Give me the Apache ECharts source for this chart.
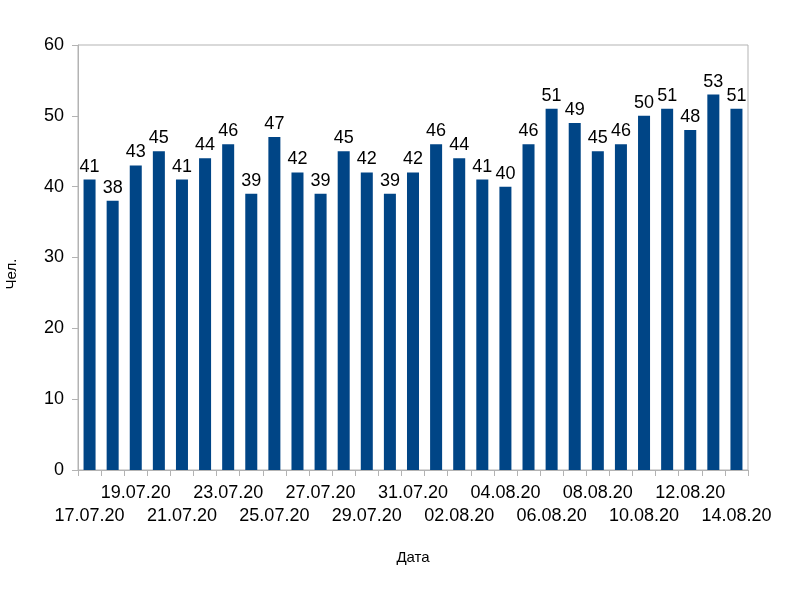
<!DOCTYPE html>
<html><head><meta charset="utf-8">
<script src="https://cdn.jsdelivr.net/npm/echarts@6/dist/echarts.min.js"></script>
<style>html,body{margin:0;padding:0;background:#fff}#c{width:800px;height:600px}</style>
</head><body><div id="c"></div>
<script>
const dates = ['17.07.20','18.07.20','19.07.20','20.07.20','21.07.20','22.07.20','23.07.20','24.07.20','25.07.20','26.07.20','27.07.20','28.07.20','29.07.20','30.07.20','31.07.20','01.08.20','02.08.20','03.08.20','04.08.20','05.08.20','06.08.20','07.08.20','08.08.20','09.08.20','10.08.20','11.08.20','12.08.20','13.08.20','14.08.20'];
const values = [41,38,43,45,41,44,46,39,47,42,39,45,42,39,42,46,44,41,40,46,51,49,45,46,50,51,48,53,51];
const yTicks = [0,10,20,30,40,50,60];
const font = 'Liberation Sans, Arial, sans-serif';
const chart = echarts.init(document.getElementById('c'));
const labelBase = {fontFamily:font,fontSize:18,color:'#000',hideOverlap:false};
chart.setOption({
  animation:false,
  grid:{left:78,right:52,top:45,bottom:130,outerBoundsMode:'none',show:true,borderColor:'#b3b3b3',borderWidth:1,backgroundColor:'transparent'},
  graphic:[{type:'text',x:12,y:274,rotation:Math.PI/2,
    style:{text:'Чел.',font:'15px Liberation Sans, Arial, sans-serif',fill:'#000',align:'center',verticalAlign:'middle'}}],
  xAxis:[{type:'category',data:dates,
    name:'Дата',nameLocation:'middle',nameGap:80,
    nameTextStyle:{fontFamily:font,fontSize:15,color:'#000'},
    axisLine:{lineStyle:{color:'#b3b3b3'}},
    axisTick:{show:true,interval:0,length:6,lineStyle:{color:'#b3b3b3'}},
    axisLabel:Object.assign({},labelBase,{margin:14,
      interval:function(i){return i%4===2;}})},
   {type:'category',data:dates,position:'bottom',
    axisLine:{show:false},axisTick:{show:false},splitLine:{show:false},
    axisLabel:Object.assign({},labelBase,{margin:37,showMinLabel:true,showMaxLabel:true,
      interval:function(i){return i%4===0;}})}],
  yAxis:{type:'value',min:0,max:60,interval:10,
    axisLine:{show:true,lineStyle:{color:'#b3b3b3'}},
    axisTick:{show:true,length:6,lineStyle:{color:'#b3b3b3'}},
    splitLine:{show:false},
    axisLabel:{fontFamily:font,fontSize:18,color:'#000',margin:14,
      formatter:function(v){return yTicks.indexOf(v)>=0?String(v):'';}}},
  series:[{type:'bar',xAxisIndex:0,data:values,barWidth:'52%',itemStyle:{color:'#004586'},
    label:{show:true,position:'top',distance:4,fontFamily:font,fontSize:18,color:'#000'}}]
});
</script></body></html>
